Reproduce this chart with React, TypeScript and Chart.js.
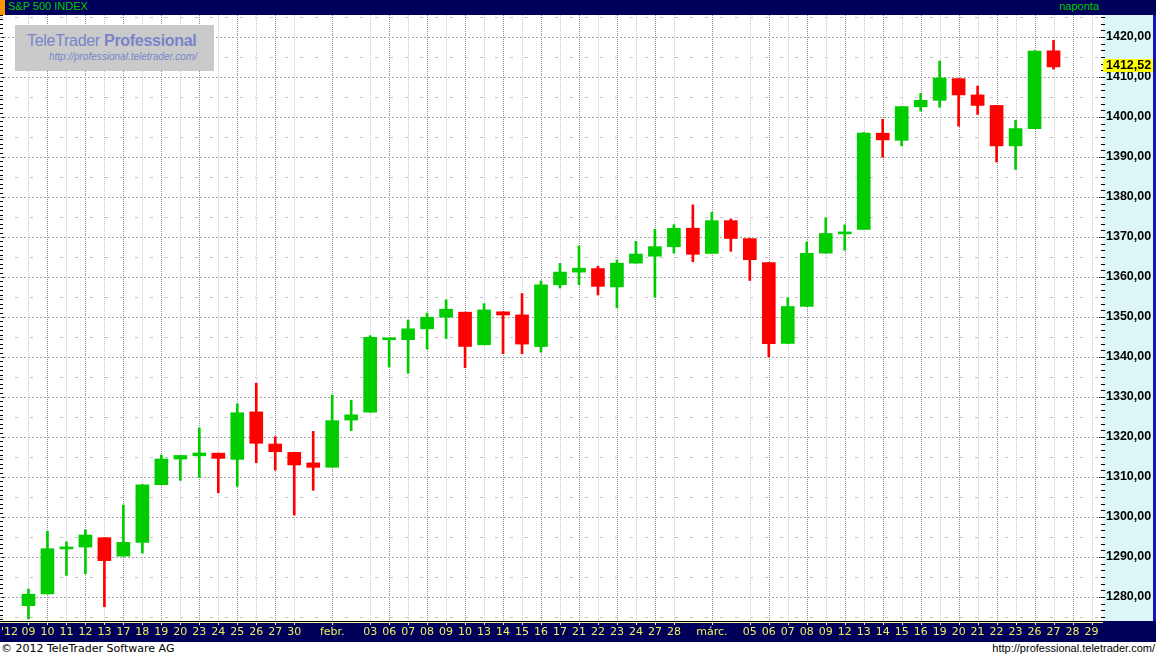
import React, { useEffect, useRef } from 'react';
import { Chart, registerables } from 'chart.js';

Chart.register(...registerables);

// ---- data ----
const dateLabels = [
  "'12", '09', '10', '11', '12', '13', '17', '18', '19', '20', '23', '24', '25', '26', '27', '30', '', 'febr.', '',
  '03', '06', '07', '08', '09', '10', '13', '14', '15', '16', '17', '21', '22', '23', '24', '27', '28', '', 'márc.', '',
  '05', '06', '07', '08', '09', '12', '13', '14', '15', '16', '19', '20', '21', '22', '23', '26', '27', '28', '29',
];

const openValues = [
  null, 1277.83, 1280.77, 1292.02, 1292.48, 1294.82, 1290.22, 1293.65, 1308.07, 1314.49, 1315.29, 1315.96, 1314.40, 1326.28, 1318.25, 1316.16, 1313.53, 1312.45, 1324.24,
  1326.21, 1344.32, 1344.33, 1347.04, 1349.97, 1351.21, 1343.06, 1351.30, 1350.52, 1342.61, 1358.06, 1361.22, 1362.11, 1357.53, 1363.46, 1365.20, 1367.56, 1372.20, 1365.90, 1374.09,
  1369.59, 1363.63, 1343.39, 1352.65, 1365.97, 1370.78, 1371.92, 1395.95, 1394.17, 1402.55, 1404.17, 1409.59, 1405.52, 1402.89, 1392.78, 1397.11, 1416.55, null, null,
];
const highValues = [
  null, 1281.99, 1296.46, 1293.80, 1296.82, 1294.82, 1303.00, 1308.11, 1315.49, 1315.38, 1322.28, 1315.96, 1328.30, 1333.47, 1320.06, 1316.16, 1321.41, 1330.52, 1329.19,
  1345.34, 1344.36, 1349.24, 1351.00, 1354.32, 1351.21, 1353.35, 1351.30, 1355.87, 1359.02, 1363.40, 1367.76, 1362.70, 1364.24, 1368.92, 1371.94, 1373.09, 1378.04, 1376.17, 1374.53,
  1369.59, 1363.63, 1354.85, 1368.72, 1374.76, 1373.04, 1396.13, 1399.42, 1402.63, 1405.88, 1414.00, 1409.59, 1407.75, 1402.89, 1399.18, 1416.58, 1419.15, null, null,
];
const lowValues = [
  null, 1274.55, 1280.77, 1285.41, 1285.77, 1277.58, 1290.22, 1290.99, 1308.07, 1309.17, 1309.89, 1306.06, 1307.65, 1313.60, 1311.72, 1300.49, 1306.69, 1312.45, 1321.57,
  1326.21, 1337.52, 1335.92, 1341.95, 1344.63, 1337.35, 1343.06, 1340.83, 1340.80, 1341.22, 1357.24, 1358.11, 1355.53, 1352.28, 1363.46, 1354.92, 1365.97, 1363.81, 1365.90, 1366.42,
  1359.13, 1340.03, 1343.39, 1352.65, 1365.97, 1366.69, 1371.92, 1389.97, 1392.78, 1401.47, 1402.43, 1397.68, 1400.64, 1388.73, 1386.87, 1397.11, 1411.95, null, null,
];
const closeValues = [
  null, 1280.70, 1292.08, 1292.48, 1295.50, 1289.09, 1293.67, 1308.04, 1314.50, 1315.38, 1316.00, 1314.65, 1326.06, 1318.43, 1316.33, 1313.01, 1312.41, 1324.09, 1325.54,
  1344.90, 1344.33, 1347.05, 1349.96, 1351.95, 1342.64, 1351.77, 1350.50, 1343.23, 1358.04, 1361.23, 1362.21, 1357.66, 1363.46, 1365.74, 1367.59, 1372.18, 1365.68, 1374.09, 1369.63,
  1364.33, 1343.36, 1352.63, 1365.91, 1370.87, 1371.09, 1395.95, 1394.28, 1402.60, 1404.17, 1409.75, 1405.52, 1402.89, 1392.78, 1397.11, 1416.51, 1412.52, null, null,
];

const yTicks = [1280, 1290, 1300, 1310, 1320, 1330, 1340, 1350, 1360, 1370, 1380, 1390, 1400, 1410, 1420];
const yMin = 1274;
const yMax = 1425.5;
const lastPrice = 1412.52;

// ---- styles ----
const NAVY = '#00005a';
const PANEL = '#ddf6f6';
const UP = '#00cc00';
const DOWN = '#ff0000';
const VALUE_FONT = 'bold 12.5px "Liberation Sans", Arial, sans-serif';

const fmt = (v: number) => v.toFixed(2).replace('.', ',');

const chromePlugin = {
  id: 'ttChrome',
  beforeDraw(chart: any) {
    const { ctx, chartArea: a, width, height } = chart;
    const xs = chart.scales.x;
    const ys = chart.scales.y;
    ctx.save();
    ctx.fillStyle = '#ffffff';
    ctx.fillRect(0, 0, width, height);
    // right value panel
    ctx.fillStyle = PANEL;
    ctx.fillRect(a.right + 2, 0, width - a.right - 5, a.bottom);
    ctx.fillStyle = '#1414b4';
    ctx.fillRect(width - 3, 0, 3, a.bottom);
    // bottom date bar
    ctx.fillStyle = NAVY;
    ctx.fillRect(0, a.bottom, width, height - a.bottom);
    ctx.fillStyle = '#000000';
    ctx.fillRect(0, a.bottom, a.right + 2, 1);
    ctx.fillStyle = '#f4f4a8';
    ctx.fillRect(0, a.bottom + 1, a.right + 2, 1);
    for (let i = 1; i < dateLabels.length; i++) {
      if (!dateLabels[i]) continue;
      const px = Math.round(xs.getPixelForValue(i));
      ctx.fillRect(px, a.bottom + 2, 1, 2);
    }
    // right ticks
    ctx.fillStyle = '#000000';
    for (let k = -6; k <= 6 * 16; k++) {
      const v = yTicks[0] + (k * 10) / 6;
      const py = Math.round(ys.getPixelForValue(v));
      if (py < a.top || py > a.bottom) continue;
      const major = k % 6 === 0;
      ctx.fillRect(major ? a.right - 2 : a.right, py, major ? 6 : 4, 1);
    }
    // left ticks
    for (let k = -9; k <= 9 * 16; k++) {
      const v = yTicks[0] + (k * 10) / 9;
      const py = Math.round(ys.getPixelForValue(v));
      if (py < a.top || py > a.bottom) continue;
      const major = k % 9 === 0;
      ctx.fillRect(0, py, major ? 5 : 3, 1);
    }
    ctx.restore();
  },
  beforeDatasetsDraw(chart: any) {
    const { ctx, chartArea: a } = chart;
    const xs = chart.scales.x;
    const ys = chart.scales.y;
    ctx.save();
    ctx.beginPath();
    ctx.rect(a.left, a.top, a.right - a.left, a.bottom - a.top);
    ctx.clip();
    ctx.lineWidth = 1;
    // half-step dashed lines
    const halfTicks = [...yTicks.map((v) => v - 5), yTicks[yTicks.length - 1] + 5];
    ctx.setLineDash([3, 12]);
    ctx.strokeStyle = '#c4c4c4';
    for (const v of halfTicks) {
      const py = Math.round(ys.getPixelForValue(v)) + 0.5;
      ctx.beginPath();
      ctx.moveTo(a.left, py);
      ctx.lineTo(a.right, py);
      ctx.stroke();
    }
    // vertical dotted lines at labelled days
    ctx.setLineDash([1, 1]);
    let n = 0;
    for (let i = 0; i < dateLabels.length; i++) {
      if (!dateLabels[i]) continue;
      const dark = n % 2 === 0;
      n++;
      if (i === 0) continue;
      const px = Math.round(xs.getPixelForValue(i)) + 0.5;
      ctx.strokeStyle = dark ? '#8c8c8c' : '#c8c8c8';
      ctx.beginPath();
      ctx.moveTo(px, a.top);
      ctx.lineTo(px, a.bottom);
      ctx.stroke();
    }
    // major dotted lines
    ctx.setLineDash([2, 2]);
    ctx.strokeStyle = '#a4a4a4';
    for (const v of yTicks) {
      const py = Math.round(ys.getPixelForValue(v)) + 0.5;
      ctx.beginPath();
      ctx.moveTo(a.left, py);
      ctx.lineTo(a.right, py);
      ctx.stroke();
    }
    ctx.restore();
  },
  afterDraw(chart: any) {
    const { ctx, chartArea: a } = chart;
    const ys = chart.scales.y;
    const py = ys.getPixelForValue(lastPrice);
    ctx.save();
    ctx.fillStyle = '#ffff00';
    ctx.fillRect(a.right + 2, Math.round(py) - 8, 50, 13);
    ctx.fillStyle = '#000000';
    ctx.font = VALUE_FONT;
    ctx.textBaseline = 'middle';
    ctx.textAlign = 'left';
    ctx.fillText(fmt(lastPrice), a.right + 5, Math.round(py) - 1.5);
    ctx.restore();
  },
};

export default function App() {
  const canvasRef = useRef<HTMLCanvasElement | null>(null);

  useEffect(() => {
    const canvas = canvasRef.current;
    if (!canvas) return;
    const bodies = openValues.map((o, i) => (o === null ? null : [o, closeValues[i] as number]));
    const wicks = lowValues.map((l, i) => (l === null ? null : [l, highValues[i] as number]));
    const colors = openValues.map((o, i) => (o !== null && (closeValues[i] as number) >= o ? UP : DOWN));

    const chart = new Chart(canvas, {
      type: 'bar',
      data: {
        labels: dateLabels,
        datasets: [
          {
            label: 'body',
            data: bodies as any,
            backgroundColor: colors,
            borderWidth: 0,
            barThickness: 13,
            grouped: false,
            minBarLength: 2,
            order: 0,
          } as any,
          {
            label: 'wick',
            data: wicks as any,
            backgroundColor: colors,
            borderWidth: 0,
            barThickness: 2,
            grouped: false,
            order: 1,
          } as any,
        ],
      },
      options: {
        responsive: false,
        animation: false,
        layout: { padding: 0 },
        plugins: { legend: { display: false }, tooltip: { enabled: false } },
        scales: {
          x: {
            type: 'category',
            offset: true,
            grid: { display: false, drawTicks: false },
            border: { display: false },
            ticks: {
              autoSkip: false,
              maxRotation: 0,
              minRotation: 0,
              color: '#eeee60',
              padding: 5,
              font: { family: 'DejaVu Sans', size: 11 },
            },
            afterFit: (s: any) => {
              s.height = 21;
              s.paddingLeft = 0;
              s.paddingRight = 0;
            },
          },
          y: {
            type: 'linear',
            position: 'right',
            min: yMin,
            max: yMax,
            grid: { display: false, drawTicks: false },
            border: { display: false },
            ticks: {
              color: '#000000',
              padding: 5,
              font: { family: '"Liberation Sans", Arial, sans-serif', size: 12.5, weight: 'bold' },
              callback: (v: any) => fmt(Number(v)),
            },
            afterBuildTicks: (s: any) => {
              s.ticks = yTicks.map((v) => ({ value: v }));
            },
            afterFit: (s: any) => {
              s.width = 55;
              s.paddingTop = 0;
              s.paddingBottom = 0;
            },
          },
        },
      } as any,
      plugins: [chromePlugin as any],
    });
    return () => chart.destroy();
  }, []);

  return (
    <div style={{ position: 'absolute', left: 0, top: 0, width: 1156, height: 659, background: '#ffffff', overflow: 'hidden' }}>
      <div style={{ position: 'absolute', left: 0, top: 0, width: 1156, height: 15, background: NAVY }}>
        <div style={{ position: 'absolute', left: 0, top: 0, width: 5, height: 15, background: '#ff9900' }} />
        <div style={{ position: 'absolute', left: 8, top: 0, height: 15, lineHeight: '15px', font: '11px "Liberation Sans", Arial, sans-serif', color: '#00cc00', whiteSpace: 'nowrap' }}>
          S&amp;P 500 INDEX
        </div>
        <div style={{ position: 'absolute', right: 57, top: 0, height: 15, lineHeight: '15px', font: '11px "Liberation Sans", Arial, sans-serif', color: '#00cc00', whiteSpace: 'nowrap' }}>
          naponta
        </div>
      </div>
      <canvas ref={canvasRef} width={1156} height={627} style={{ position: 'absolute', left: 0, top: 15, width: 1156, height: 627, display: 'block' }} />
      <div style={{ position: 'absolute', left: 15, top: 25, width: 199, height: 46, background: '#c9c9c9', opacity: 0.97 }}>
        <div style={{ position: 'absolute', left: 12, top: 6, whiteSpace: 'nowrap', font: '16px "Liberation Sans", Arial, sans-serif', letterSpacing: '-0.3px', color: '#7581c9', lineHeight: '20px' }}>
          TeleTrader <b>Professional</b>
        </div>
        <div style={{ position: 'absolute', right: 17, top: 26, whiteSpace: 'nowrap', font: 'italic 10px "Liberation Sans", Arial, sans-serif', color: '#7581c9', lineHeight: '12px' }}>
          http://professional.teletrader.com/
        </div>
      </div>
      <div style={{ position: 'absolute', left: 1, top: 642, height: 17, lineHeight: '17px', font: '11px "DejaVu Sans", sans-serif', color: '#000000', whiteSpace: 'nowrap' }}>
        © 2012 TeleTrader Software AG
      </div>
      <div style={{ position: 'absolute', right: 1, top: 642, height: 17, lineHeight: '17px', font: '11px "Liberation Sans", Arial, sans-serif', color: '#000000', whiteSpace: 'nowrap' }}>
        http://professional.teletrader.com/
      </div>
    </div>
  );
}
